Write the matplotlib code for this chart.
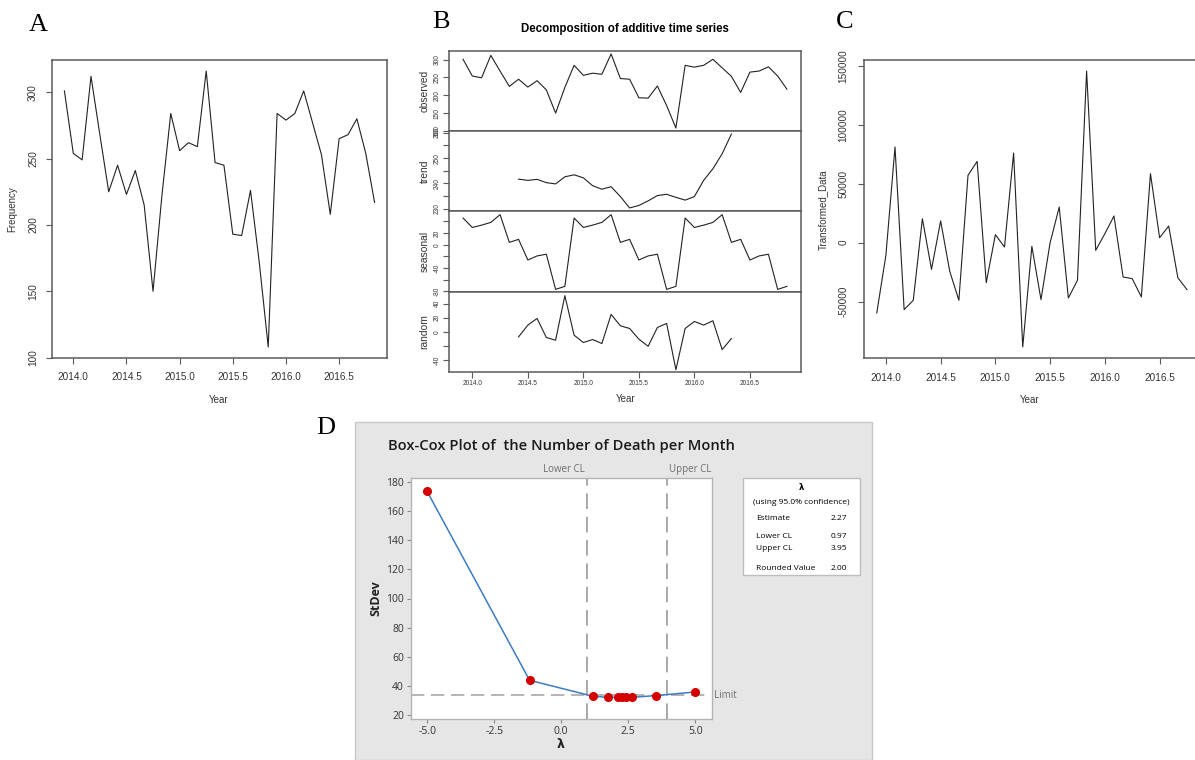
import numpy as np
import matplotlib.pyplot as plt
from matplotlib.patches import Rectangle

# monthly series, Dec 2013 - Nov 2016
observed = [301, 254, 249, 312, 268, 225, 245, 223, 241, 215, 150, 222,
            284, 256, 262, 259, 316, 247, 245, 193, 192, 226, 171, 108,
            284, 279, 284, 301, 277, 253, 208, 265, 268, 280, 254, 217]
# trend / random only exist from Jun 2014 to May 2016 (index 6..29)
trend = [241.7, 241.2, 241.6, 240.3, 239.8, 242.6, 243.4, 242.2, 239.1, 237.7,
         238.7, 234.8, 230.3, 231.3, 233.1, 235.2, 235.7, 234.5, 233.4, 234.8,
         241.2, 245.8, 251.7, 259.5]
seasonal_cycle = [45.9, 29.7, 33.7, 38.4, 51.7, 4.1, 9.3, -26.2, -19.2, -16.3, -76.7, -71.5]
random_part = [-7.2, 9.6, 19.1, -8.1, -12.0, 51.7, -4.8, -15.3, -11.0, -16.7,
               24.9, 8.6, 4.8, -10.5, -20.6, 6.2, 12.0, -54.1, 4.8, 14.8,
               9.6, 15.8, -25.4, -9.6]
# transformed data (one value fewer)
transformed = [-59.6, -10.7, 81.1, -56.8, -48.9, 20.3, -22.6, 18.4, -24.3, -48.9,
               57.1, 68.9, -33.9, 6.8, -3.7, 76.0, -88.4, -3.1, -48.3, 0.0,
               30.2, -46.9, -31.9, 145.5, -6.5, 7.6, 22.6, -29.1, -30.5, -46.0,
               58.5, 4.2, 14.1, -29.7, -39.8]
transformed = [v * 1000 for v in transformed]

# Box-Cox
lam = [-5.0, -1.18, 1.19, 1.74, 2.10, 2.26, 2.41, 2.64, 3.54, 5.0]
stdev = [173.6, 43.8, 32.8, 32.1, 32.1, 32.1, 32.1, 32.1, 33.3, 35.8]
lower_cl, upper_cl, limit = 0.97, 3.95, 33.5
legend_rows = [("Estimate", "2.27"), ("Lower CL", "0.97"), ("Upper CL", "3.95"),
               ("Rounded Value", "2.00")]

t = 2013 + 11 / 12 + np.arange(len(observed)) / 12
t_trend = t[6:30]
t_tr = t[:len(transformed)]
seasonal = np.tile(seasonal_cycle, 3)

W, H = 1195, 760
fig = plt.figure(figsize=(W / 100, H / 100), dpi=100)
R_FONT = "Liberation Sans"
MS_FONT = "Open Sans"


def box(x0, y0, x1, y1):
    return [x0 / W, 1 - y1 / H, (x1 - x0) / W, (y1 - y0) / H]


def ftext(x, y, s, **kw):
    fig.text(x / W, 1 - y / H, s, **kw)


def r_axes(ax, fs, pad=4):
    for s in ax.spines.values():
        s.set_color("#5a5a5a")
        s.set_linewidth(1.1)
    ax.tick_params(direction="out", length=4, width=0.8, color="#5a5a5a",
                   labelsize=fs, labelcolor="#333333", pad=pad)
    ax.tick_params(axis="y", labelrotation=90)
    for lb in ax.get_yticklabels():
        lb.set_va("center")
        lb.set_fontfamily(R_FONT)
    for lb in ax.get_xticklabels():
        lb.set_fontfamily(R_FONT)


xt = [2014.0, 2014.5, 2015.0, 2015.5, 2016.0, 2016.5]
xt_lab = ["%.1f" % v for v in xt]
line_kw = dict(color="#222222", lw=0.8)

# ---- A
axA = fig.add_axes(box(52, 60, 387, 358))
axA.plot(t, observed, **line_kw)
axA.set_xlim(2013.80, 2016.95)
axA.set_ylim(99.7, 324.3)
axA.set_xticks(xt, xt_lab)
axA.set_yticks([100, 150, 200, 250, 300])
r_axes(axA, 7.2, pad=6)
ftext(219, 400, "Year", family=R_FONT, fontsize=7, color="#333333", ha="center", va="center")
ftext(12, 209, "Frequency", family=R_FONT, fontsize=7, color="#333333",
      ha="center", va="center", rotation=90)
ftext(38, 25, "A", family="Liberation Serif", fontsize=19, ha="center", va="center")

# ---- B
rows = [(51, 131), (131, 211), (211, 292), (292, 372)]
panels = [
    ("observed", t, observed, (99.7, 324.3), [100, 150, 200, 250, 300], None),
    ("trend", t_trend, trend, (229.1, 260.7), [230, 235, 240, 245, 250, 255, 260],
     ["230", "", "240", "", "250", "", "260"]),
    ("seasonal", t, seasonal, (-81.2, 58.0), [40, 20, 0, -20, -40, -60, -80],
     ["", "20", "0", "", "-40", "", "-80"]),
    ("random", t_trend, random_part, (-57.4, 56.9), [40, 20, 0, -20, -40],
     ["40", "20", "0", "", "-40"]),
]
for i, (name, xs, ys, yl, yt, ytl) in enumerate(panels):
    y0, y1 = rows[i]
    ax = fig.add_axes(box(449, y0, 801, y1))
    ax.plot(xs, ys, **line_kw)
    ax.set_xlim(2013.79, 2016.96)
    ax.set_ylim(*yl)
    if ytl is None:
        ax.set_yticks(yt)
    else:
        ax.set_yticks(yt, ytl)
    if i == 3:
        ax.set_xticks(xt, xt_lab)
    else:
        ax.set_xticks([])
    r_axes(ax, 4.7, pad=2)
    ax.set_ylabel(name, family=R_FONT, fontsize=7.4, color="#333333", labelpad=3)
ftext(626, 399, "Year", family=R_FONT, fontsize=7, color="#333333", ha="center", va="center")
ftext(625, 29, "Decomposition of additive time series", family=R_FONT, fontsize=8.3,
      weight="bold", ha="center", va="center")
ftext(441, 22, "B", family="Liberation Serif", fontsize=19, ha="center", va="center")

# ---- C
axC = fig.add_axes(box(864, 60, 1199, 358))
axC.plot(t_tr, transformed, **line_kw)
axC.set_xlim(2013.80, 2016.86)
axC.set_ylim(-97.8e3, 154.9e3)
axC.set_xticks(xt, xt_lab)
axC.set_yticks([-50000, 0, 50000, 100000, 150000], ["-50000", "0", "50000", "100000", "150000"])
r_axes(axC, 7.2, pad=7)
ftext(1030, 400, "Year", family=R_FONT, fontsize=7, color="#333333", ha="center", va="center")
ftext(823, 210, "Transformed_Data", family=R_FONT, fontsize=7, color="#333333",
      ha="center", va="center", rotation=90)
ftext(845, 22, "C", family="Liberation Serif", fontsize=19, ha="center", va="center")

# ---- D
fig.patches.append(Rectangle((355 / W, 0), 517 / W, 1 - 422 / H, transform=fig.transFigure,
                             facecolor="#e6e6e6", edgecolor="#c8c8c8", lw=1, zorder=-5))
ftext(326, 428, "D", family="Liberation Serif", fontsize=19, ha="center", va="center")
ftext(388, 446, "Box-Cox Plot of  the Number of Death per Month", family=MS_FONT,
      fontsize=10.6, weight="semibold", color="#1a1a1a", ha="left", va="center")

axD = fig.add_axes(box(411, 478, 712, 719))
axD.set_facecolor("white")
axD.plot(lam, stdev, color="#3c7cc4", lw=1.1, zorder=2)
axD.plot(lam, stdev, "o", color="#d40000", ms=5.5, zorder=3)
axD.axvline(lower_cl, color="#a8a8a8", lw=1.4, ls=(0, (8, 4)), zorder=1)
axD.axvline(upper_cl, color="#a8a8a8", lw=1.4, ls=(0, (8, 4)), zorder=1)
axD.plot([-5.6, 5.35], [limit, limit], color="#a8a8a8", lw=1.2, ls=(0, (8, 4)), zorder=1)
axD.set_xlim(-5.6, 5.62)
axD.set_ylim(17.2, 182.8)
axD.set_xticks([-5.0, -2.5, 0.0, 2.5, 5.0], ["-5.0", "-2.5", "0.0", "2.5", "5.0"])
axD.set_yticks(range(20, 181, 20))
for s in axD.spines.values():
    s.set_color("#b4b4b4")
    s.set_linewidth(1.0)
axD.tick_params(direction="out", length=3, width=0.8, color="#888888", labelsize=7.5,
                labelcolor="#333333", pad=2)
for lb in axD.get_xticklabels() + axD.get_yticklabels():
    lb.set_fontfamily(MS_FONT)
axD.text(lower_cl - 0.08, 1.012, "Lower CL", transform=axD.get_xaxis_transform(),
         family=MS_FONT, fontsize=7, color="#6e6e6e", ha="right", va="bottom")
axD.text(upper_cl + 0.05, 1.012, "Upper CL", transform=axD.get_xaxis_transform(),
         family=MS_FONT, fontsize=7, color="#6e6e6e", ha="left", va="bottom")
axD.text(1.006, limit, "Limit", transform=axD.get_yaxis_transform(),
         family=MS_FONT, fontsize=7, color="#6e6e6e", ha="left", va="center")
ftext(561, 745, "λ", family="DejaVu Sans", fontsize=9, weight="bold", ha="center", va="center",
      color="#222222")
ftext(376, 598, "StDev", family=MS_FONT, fontsize=9, weight="bold", ha="center", va="center",
      rotation=90, color="#222222")

# legend box
fig.patches.append(Rectangle((743 / W, 1 - 575 / H), 117 / W, 97 / H, transform=fig.transFigure,
                             facecolor="white", edgecolor="#bdbdbd", lw=1, zorder=1))
ftext(801, 488, "λ", family="DejaVu Sans", fontsize=6, weight="bold", ha="center", va="center")
ftext(801, 503, "(using 95.0% confidence)", family=MS_FONT, fontsize=6, ha="center", va="center")
for (lab, val), yy in zip(legend_rows, [518, 537, 549, 568]):
    ftext(756, yy, lab, family=MS_FONT, fontsize=6, ha="left", va="center")
    ftext(847, yy, val, family=MS_FONT, fontsize=6, ha="right", va="center")

fig.savefig("out.png", dpi=100)
